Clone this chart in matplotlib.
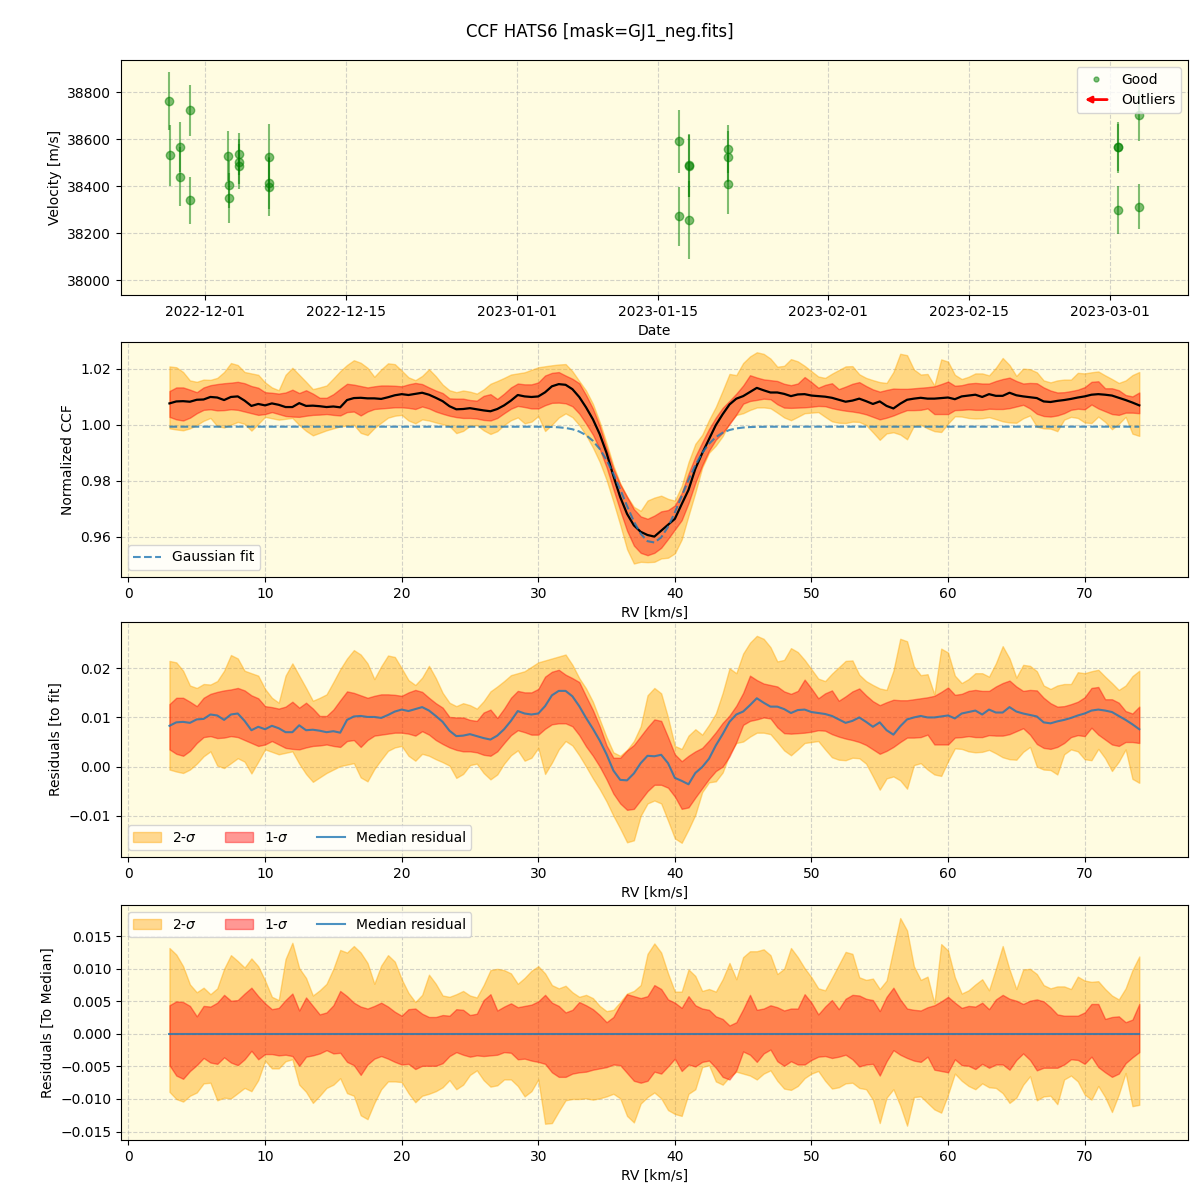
import numpy as np
import matplotlib
matplotlib.use("Agg")
import matplotlib.pyplot as plt
import matplotlib.dates as mdates
from matplotlib.legend_handler import HandlerBase
from matplotlib.patches import FancyArrowPatch
from matplotlib.lines import Line2D
import pandas as pd

# ---------------- RV time series ----------------
obs_times = [
    "2022-11-27 10:00", "2022-11-27 10:30",
    "2022-11-28 11:00", "2022-11-28 11:30",
    "2022-11-29 10:00", "2022-11-29 10:30",
    "2022-12-03 07:00", "2022-12-03 07:30", "2022-12-03 08:00",
    "2022-12-04 07:00", "2022-12-04 07:30", "2022-12-04 08:00",
    "2022-12-07 07:00", "2022-12-07 07:30", "2022-12-07 08:00",
    "2023-01-17 03:00", "2023-01-17 03:30",
    "2023-01-18 03:00", "2023-01-18 03:30", "2023-01-18 04:00",
    "2023-01-22 00:00", "2023-01-22 00:30", "2023-01-22 01:00",
    "2023-03-01 19:00", "2023-03-01 19:30", "2023-03-01 20:00",
    "2023-03-03 22:00", "2023-03-03 22:30",
]
obs_vel = [38762, 38532, 38566, 38440, 38723, 38340,
           38528, 38407, 38349, 38536, 38505, 38485,
           38523, 38413, 38397, 38591, 38272,
           38489, 38486, 38255, 38559, 38526, 38408,
           38566, 38566, 38298, 38702, 38312]
obs_err = [125, 130, 105, 126, 108, 101,
           108, 100, 105, 90, 95, 95,
           142, 110, 122, 135, 125,
           133, 130, 165, 102, 110, 126,
           108, 100, 101, 108, 96]

# ---------------- CCF data (residuals to fit, in units of 1e-3) ----------------
rv_start = 3.0
rv_step = 0.5
med_res = [
    8.3, 9.0, 9.1, 8.9, 9.6, 9.7, 10.6, 10.4, 9.5, 10.6,
    10.8, 9.3, 7.4, 8.1, 7.6, 8.3, 7.8, 7.0, 7.0, 8.4,
    7.4, 7.5, 7.3, 7.0, 7.2, 6.9, 9.5, 10.2, 10.3, 10.1,
    10.1, 9.9, 10.5, 11.2, 11.6, 11.3, 11.7, 12.1, 11.4, 10.3,
    9.1, 7.3, 6.2, 6.3, 6.6, 6.2, 5.8, 5.5, 6.3, 7.6,
    9.3, 11.3, 10.8, 10.6, 10.8, 12.3, 14.5, 15.4, 15.4, 14.3,
    12.3, 9.9, 7.7, 5.3, 2.5, -0.8, -2.7, -2.8, -1.4, 0.7,
    2.2, 2.1, 2.4, 0.7, -2.3, -2.9, -3.6, -1.3, -0.1, 1.6,
    4.3, 6.6, 9.1, 10.6, 11.2, 12.5, 13.9, 13.0, 12.2, 12.2,
    11.7, 10.9, 11.5, 11.6, 11.1, 10.9, 10.7, 10.3, 9.6, 8.9,
    9.3, 10.0, 9.1, 8.1, 9.0, 7.4, 6.5, 8.2, 9.6, 10.0,
    10.3, 10.0, 10.0, 10.2, 10.4, 9.8, 10.8, 11.1, 11.4, 10.6,
    11.6, 11.0, 11.0, 12.1, 11.2, 10.8, 10.5, 10.2, 9.0, 8.8,
    9.2, 9.5, 9.9, 10.4, 10.8, 11.4, 11.6, 11.4, 11.1, 10.3,
    9.5, 8.6, 7.6,
]
sig1_hi = [
    12.7, 14.0, 14.0, 13.2, 12.3, 14.0, 14.8, 15.2, 15.5, 15.7,
    16.0, 15.5, 14.5, 13.9, 12.3, 12.1, 11.8, 12.2, 13.2, 12.0,
    13.0, 11.8, 10.3, 10.3, 11.6, 13.5, 15.3, 15.0, 14.5, 14.0,
    14.4, 14.7, 14.7, 14.6, 14.4, 15.1, 15.6, 15.2, 14.0, 12.9,
    12.0, 10.1, 10.0, 10.0, 9.5, 9.3, 11.0, 11.6, 9.9, 11.8,
    14.0, 15.4, 15.1, 15.1, 15.8, 18.3, 19.3, 19.7, 18.7, 18.0,
    17.2, 14.3, 11.5, 8.2, 4.3, 1.8, 1.8, 3.3, 4.4, 6.2,
    8.0, 9.6, 9.3, 6.0, 2.5, 1.1, 2.2, 3.1, 3.8, 5.3,
    7.0, 8.9, 10.4, 12.4, 15.0, 18.5, 17.6, 16.9, 16.6, 16.3,
    15.3, 14.8, 15.4, 17.7, 15.9, 13.9, 14.9, 15.5, 13.4, 14.3,
    15.3, 15.9, 14.5, 13.3, 12.5, 13.1, 13.6, 13.5, 13.5, 13.7,
    13.9, 14.1, 14.4, 15.2, 16.1, 14.6, 14.8, 15.4, 15.6, 15.4,
    15.4, 16.3, 17.0, 17.5, 16.3, 15.4, 15.6, 15.5, 14.0, 12.9,
    12.2, 12.3, 12.7, 13.2, 14.1, 16.0, 16.2, 13.7, 13.7, 13.0,
    11.3, 10.8, 12.2,
]
sig1_lo = [
    3.5, 2.6, 2.2, 3.2, 4.8, 6.0, 6.2, 5.8, 5.9, 6.2,
    6.0, 5.4, 4.8, 4.2, 4.5, 5.2, 4.5, 3.8, 3.6, 3.5,
    3.9, 4.2, 4.3, 4.5, 4.2, 4.0, 5.2, 5.4, 4.0, 5.4,
    6.3, 6.5, 6.7, 6.9, 6.9, 6.7, 6.3, 7.2, 6.5, 5.4,
    4.6, 3.9, 3.4, 3.1, 3.1, 2.9, 2.4, 2.2, 3.1, 4.8,
    6.4, 7.4, 7.0, 6.5, 6.5, 7.7, 8.6, 8.8, 8.8, 8.2,
    6.4, 4.1, 2.2, 0.0, -2.6, -5.5, -7.5, -8.8, -8.6, -6.8,
    -5.0, -3.7, -3.7, -4.3, -6.1, -8.6, -8.3, -6.3, -4.4, -2.5,
    -0.9, 0.0, 2.1, 5.0, 8.5, 9.3, 9.6, 10.0, 9.8, 8.0,
    6.8, 6.7, 6.8, 6.9, 7.1, 7.4, 7.3, 6.6, 6.1, 5.7,
    5.4, 5.0, 4.4, 3.5, 2.6, 3.2, 4.0, 5.0, 5.9, 5.9,
    6.0, 6.5, 4.5, 4.5, 4.5, 5.9, 6.0, 6.2, 6.0, 6.0,
    6.4, 6.3, 6.3, 6.6, 7.2, 7.8, 6.5, 4.6, 3.8, 3.6,
    4.0, 4.8, 6.0, 6.4, 6.2, 7.9, 6.5, 5.5, 4.5, 4.2,
    5.0, 5.0, 4.8,
]
sig2_hi = [
    21.5, 21.2, 19.5, 16.5, 16.0, 16.8, 16.7, 17.4, 19.5, 22.7,
    22.0, 19.5, 19.0, 18.5, 15.8, 14.0, 13.0, 18.5, 21.0, 18.5,
    16.0, 13.4, 14.0, 14.7, 17.2, 19.8, 22.0, 23.7, 22.8, 21.0,
    17.8, 20.4, 22.6, 22.3, 20.0, 17.6, 16.6, 18.1, 20.5, 18.0,
    15.0, 13.0, 12.3, 12.9, 12.5, 11.8, 13.3, 15.3, 16.3, 17.4,
    18.6, 19.0, 19.4, 20.3, 21.2, 21.6, 22.0, 22.4, 22.8, 20.7,
    18.0, 15.9, 13.2, 9.6, 6.0, 2.9, 2.2, 3.4, 5.2, 8.2,
    14.5, 16.0, 14.9, 10.0, 4.2, 3.6, 6.3, 7.6, 6.5, 8.5,
    10.8, 15.0, 20.0, 19.0, 23.0, 25.2, 26.6, 26.0, 24.3, 21.4,
    21.7, 24.1, 23.3, 21.7, 19.8, 17.9, 17.4, 18.9, 20.2, 21.5,
    21.6, 18.7, 17.4, 16.6, 15.9, 15.6, 19.5, 26.0, 25.5, 20.4,
    18.6, 18.8, 14.7, 24.0, 23.2, 18.5, 17.0, 17.8, 19.0, 19.0,
    18.3, 21.0, 24.5, 22.0, 18.1, 20.7, 20.5, 19.4, 16.5, 15.8,
    16.5, 16.8, 16.8, 19.2, 19.0, 19.4, 19.7, 18.3, 17.0, 15.6,
    16.5, 18.4, 19.5,
]
sig2_lo = [
    -0.6, -1.0, -1.3, -0.6, 0.6, 2.1, 3.1, 0.2, -0.3, 0.7,
    1.7, 1.0, -1.4, 1.0, 3.5, 3.0, 2.5, 2.8, 3.1, 0.6,
    -1.5, -3.1, -2.2, -1.3, -0.6, 0.1, 0.4, 0.7, -2.2, -3.0,
    -0.5, 1.4, 3.2, 3.9, 4.2, 2.2, 1.2, 2.6, 2.2, 1.5,
    0.9, 0.2, -2.3, -1.5, 0.3, 0.6, -1.3, -2.6, -1.6, 0.6,
    2.3, 3.3, 1.2, 1.8, 3.8, -1.5, 0.8, 3.5, 5.2, 4.3,
    2.3, 0.0, -2.4, -4.6, -7.1, -10.0, -12.6, -15.4, -15.0, -10.0,
    -7.5, -6.9, -7.5, -11.0, -14.6, -15.5, -12.8, -9.8, -5.2, -3.2,
    -3.0, -1.2, 2.5, 4.8, 5.1, 6.1, 6.9, 6.9, 6.6, 5.0,
    3.3, 2.3, 3.5, 4.8, 5.0, 5.2, 3.5, 1.9, 1.4, 1.3,
    1.8, 1.7, 0.6, -2.0, -4.7, -2.4, -2.0, -2.8, -4.5, 0.3,
    0.7, -0.6, -1.6, -1.9, 1.1, 3.7, 3.6, 3.1, 2.9, 3.0,
    3.4, 2.7, 1.9, 1.5, 1.4, 3.0, 4.0, 0.0, -0.6, -0.7,
    -1.6, 2.5, 3.5, 3.1, 1.5, 1.3, 3.6, 1.7, -0.9, 1.0,
    3.5, -2.5, -3.3,
]

# Gaussian fit parameters
gauss_baseline = 0.9993
gauss_depth = 0.0414
gauss_center = 38.35
gauss_sigma = 2.12

# ---------------- derived quantities ----------------
rv = rv_start + rv_step * np.arange(len(med_res))
gfit = gauss_baseline - gauss_depth * np.exp(-0.5 * ((rv - gauss_center) / gauss_sigma) ** 2)
r_med = np.array(med_res) / 1000.0
r_s1h = np.array(sig1_hi) / 1000.0
r_s1l = np.array(sig1_lo) / 1000.0
r_s2h = np.array(sig2_hi) / 1000.0
r_s2l = np.array(sig2_lo) / 1000.0
ccf_med = gfit + r_med
ccf_s1h = gfit + r_s1h
ccf_s1l = gfit + r_s1l
ccf_s2h = gfit + r_s2h
ccf_s2l = gfit + r_s2l

times = pd.to_datetime(obs_times)

# ---------------- style ----------------
BG = "#fffce1"
C2 = "orange"
C1 = "red"
A2 = 0.42
A1 = 0.4
BLUE = "tab:blue"


class ArrowHandle:
    pass


class HandlerArrow(HandlerBase):
    def create_artists(self, legend, orig_handle, xdescent, ydescent,
                       width, height, fontsize, trans):
        y = height / 2.0 - ydescent
        a = FancyArrowPatch((width - xdescent, y), (-xdescent, y),
                            arrowstyle="-|>", mutation_scale=9,
                            color="red", lw=2, transform=trans)
        return [a]


fig = plt.figure(figsize=(12, 12), dpi=100)
L, W, H = 0.1008, 0.889, 0.1958
ax1 = fig.add_axes([L, 0.7542, W, H])
ax2 = fig.add_axes([L, 0.5192, W, H])
ax3 = fig.add_axes([L, 0.2858, W, H])
ax4 = fig.add_axes([L, 0.0500, W, H])

for ax in (ax1, ax2, ax3, ax4):
    ax.set_facecolor(BG)
    ax.grid(True, linestyle="--", color="#b0b0b0", alpha=0.55, lw=0.8)
    ax.set_axisbelow(True)

# ---- panel 1 ----
ax1.errorbar(times, obs_vel, yerr=obs_err, fmt="o", color="green",
             alpha=0.5, ms=6, elinewidth=1.5, capsize=0)
h_good = Line2D([], [], marker=".", ls="None", color="green", alpha=0.5, ms=7)
ax1.legend([h_good, ArrowHandle()], ["Good", "Outliers"],
           handler_map={ArrowHandle: HandlerArrow()}, loc="upper right")
ax1.set_ylim(37937, 38937)
ax1.xaxis.set_major_locator(mdates.DayLocator(bymonthday=[1, 15]))
ax1.xaxis.set_major_formatter(mdates.DateFormatter("%Y-%m-%d"))
ax1.set_xlabel("Date")
ax1.set_ylabel("Velocity [m/s]")

# ---- panel 2 ----
ax2.fill_between(rv, ccf_s2l, ccf_s2h, color=C2, alpha=A2)
ax2.fill_between(rv, ccf_s1l, ccf_s1h, color=C1, alpha=A1)
ax2.plot(rv, ccf_med, color="black", lw=1.6)
ax2.plot(rv, gfit, ls="--", color=BLUE, alpha=0.8, lw=1.5, label="Gaussian fit")
ax2.set_ylim(0.9457, 1.0295)
ax2.set_xlabel("RV [km/s]")
ax2.set_ylabel("Normalized CCF")
ax2.legend(loc="lower left")

# ---- panel 3 ----
ax3.fill_between(rv, r_s2l, r_s2h, color=C2, alpha=A2, label=r"2-$\sigma$")
ax3.fill_between(rv, r_s1l, r_s1h, color=C1, alpha=A1, label=r"1-$\sigma$")
ax3.plot(rv, r_med, color=BLUE, alpha=0.8, lw=1.5, label="Median residual")
ax3.set_ylim(-0.0184, 0.0294)
ax3.set_xlabel("RV [km/s]")
ax3.set_ylabel("Residuals [to fit]")
ax3.legend(loc="lower left", ncol=3)

# ---- panel 4 ----
ax4.fill_between(rv, r_s2l - r_med, r_s2h - r_med, color=C2, alpha=A2, label=r"2-$\sigma$")
ax4.fill_between(rv, r_s1l - r_med, r_s1h - r_med, color=C1, alpha=A1, label=r"1-$\sigma$")
ax4.plot(rv, r_med - r_med, color=BLUE, alpha=0.8, lw=1.5, label="Median residual")
ax4.set_ylim(-0.0163, 0.0198)
ax4.set_xlabel("RV [km/s]")
ax4.set_ylabel("Residuals [To Median]")
ax4.legend(loc="upper left", ncol=3)

for ax in (ax2, ax3, ax4):
    ax.set_xlim(-0.55, 77.55)

fig.suptitle("CCF HATS6 [mask=GJ1_neg.fits]", fontsize=12, y=0.9735, va="center")
fig.savefig("out.png", dpi=100)
